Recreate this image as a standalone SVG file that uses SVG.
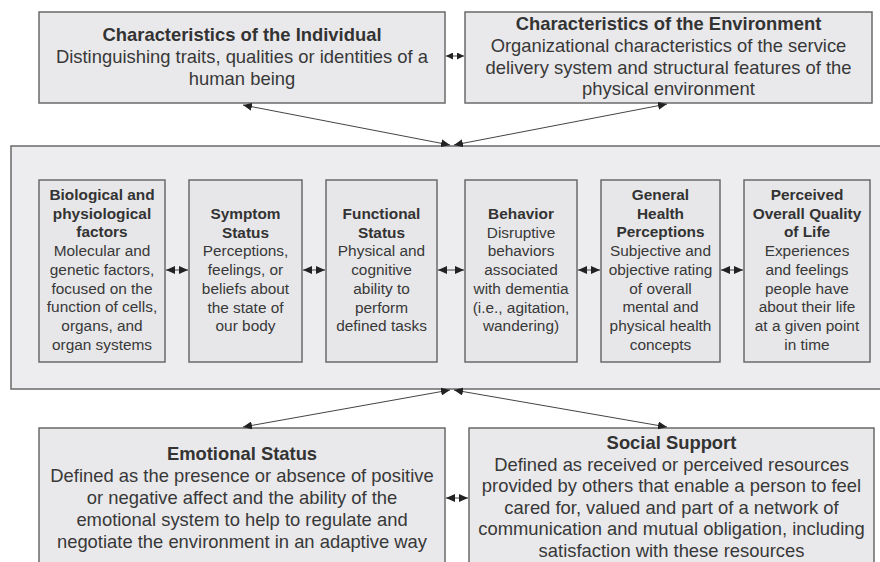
<svg xmlns="http://www.w3.org/2000/svg" width="880" height="562" viewBox="0 0 880 562">
<style>
.box{fill:#e9e9eb;stroke:#6a6a6a;stroke-width:1.5}
.big{fill:#ededef;stroke:#6a6a6a;stroke-width:1.5}
.inner{fill:#e7e7e9;stroke:#6a6a6a;stroke-width:1.5}
text{font-family:"Liberation Sans",Arial,sans-serif;fill:#383838;text-anchor:middle}
.L{font-size:18.4px}
.S{font-size:15.4px}
.b{font-weight:bold;fill:#333}
.con{stroke:#444;stroke-width:1;fill:none;marker-start:url(#ah);marker-end:url(#ah)}
.con.sm{marker-start:url(#ahs);marker-end:url(#ahs)}
</style>
<defs>
<marker id="ah" viewBox="0 0 9 8" refX="9" refY="4" markerWidth="9" markerHeight="8" markerUnits="userSpaceOnUse" orient="auto-start-reverse">
<path d="M0,0 L9,4 L0,8 z" fill="#222"/>
</marker>
<marker id="ahs" viewBox="0 0 7 7" refX="7" refY="3.5" markerWidth="7" markerHeight="7" markerUnits="userSpaceOnUse" orient="auto-start-reverse">
<path d="M0,0 L7,3.5 L0,7 z" fill="#222"/>
</marker>
</defs>
<rect width="880" height="562" fill="#fff"/>

<g id="outer">
<rect class="big" x="11" y="146" width="880" height="243"/>
</g>

<g id="individual">
<rect class="box" x="39" y="12" width="406" height="91"/>
<text class="L" x="242" y="41"><tspan class="b">Characteristics of the Individual</tspan><tspan x="242" dy="22">Distinguishing traits, qualities or identities of a</tspan><tspan x="242" dy="21.5">human being</tspan></text>
</g>

<g id="environment">
<rect class="box" x="465" y="12" width="407" height="91"/>
<text class="L" x="668.5" y="30"><tspan class="b">Characteristics of the Environment</tspan><tspan x="668.5" dy="22">Organizational characteristics of the service</tspan><tspan x="668.5" dy="21.5">delivery system and structural features of the</tspan><tspan x="668.5" dy="21.5">physical environment</tspan></text>
</g>

<g id="biological">
<rect class="inner" x="39" y="180" width="126" height="182"/>
<text class="S" x="102" y="200"><tspan class="b">Biological and</tspan><tspan class="b" x="102" dy="18.7">physiological</tspan><tspan class="b" x="102" dy="18.7">factors</tspan><tspan x="102" dy="18.7">Molecular and</tspan><tspan x="102" dy="18.7">genetic factors,</tspan><tspan x="102" dy="18.7">focused on the</tspan><tspan x="102" dy="18.7">function of cells,</tspan><tspan x="102" dy="18.7">organs, and</tspan><tspan x="102" dy="18.7">organ systems</tspan></text>
</g>

<g id="symptom">
<rect class="inner" x="189" y="180" width="113" height="182"/>
<text class="S" x="245.5" y="219"><tspan class="b">Symptom</tspan><tspan class="b" x="245.5" dy="18.7">Status</tspan><tspan x="245.5" dy="18.7">Perceptions,</tspan><tspan x="245.5" dy="18.7">feelings, or</tspan><tspan x="245.5" dy="18.7">beliefs about</tspan><tspan x="245.5" dy="18.7">the state of</tspan><tspan x="245.5" dy="18.7">our body</tspan></text>
</g>

<g id="functional">
<rect class="inner" x="326" y="180" width="111" height="182"/>
<text class="S" x="381.5" y="219"><tspan class="b">Functional</tspan><tspan class="b" x="381.5" dy="18.7">Status</tspan><tspan x="381.5" dy="18.7">Physical and</tspan><tspan x="381.5" dy="18.7">cognitive</tspan><tspan x="381.5" dy="18.7">ability to</tspan><tspan x="381.5" dy="18.7">perform</tspan><tspan x="381.5" dy="18.7">defined tasks</tspan></text>
</g>

<g id="behavior">
<rect class="inner" x="465" y="180" width="112" height="182"/>
<text class="S" x="521" y="219"><tspan class="b">Behavior</tspan><tspan x="521" dy="18.7">Disruptive</tspan><tspan x="521" dy="18.7">behaviors</tspan><tspan x="521" dy="18.7">associated</tspan><tspan x="521" dy="18.7">with dementia</tspan><tspan x="521" dy="18.7">(i.e., agitation,</tspan><tspan x="521" dy="18.7">wandering)</tspan></text>
</g>

<g id="health">
<rect class="inner" x="601" y="180" width="119" height="182"/>
<text class="S" x="660.5" y="200"><tspan class="b">General</tspan><tspan class="b" x="660.5" dy="18.7">Health</tspan><tspan class="b" x="660.5" dy="18.7">Perceptions</tspan><tspan x="660.5" dy="18.7">Subjective and</tspan><tspan x="660.5" dy="18.7">objective rating</tspan><tspan x="660.5" dy="18.7">of overall</tspan><tspan x="660.5" dy="18.7">mental and</tspan><tspan x="660.5" dy="18.7">physical health</tspan><tspan x="660.5" dy="18.7">concepts</tspan></text>
</g>

<g id="quality">
<rect class="inner" x="744" y="180" width="126" height="182"/>
<text class="S" x="807" y="200"><tspan class="b">Perceived</tspan><tspan class="b" x="807" dy="18.7">Overall Quality</tspan><tspan class="b" x="807" dy="18.7">of Life</tspan><tspan x="807" dy="18.7">Experiences</tspan><tspan x="807" dy="18.7">and feelings</tspan><tspan x="807" dy="18.7">people have</tspan><tspan x="807" dy="18.7">about their life</tspan><tspan x="807" dy="18.7">at a given point</tspan><tspan x="807" dy="18.7">in time</tspan></text>
</g>

<g id="emotional">
<rect class="box" x="39" y="428" width="406" height="150"/>
<text class="L" x="242" y="460"><tspan class="b">Emotional Status</tspan><tspan x="242" dy="22">Defined as the presence or absence of positive</tspan><tspan x="242" dy="22">or negative affect and the ability of the</tspan><tspan x="242" dy="22">emotional system to help to regulate and</tspan><tspan x="242" dy="22">negotiate the environment in an adaptive way</tspan></text>
</g>

<g id="social">
<rect class="box" x="469" y="428" width="405" height="150"/>
<text class="L" x="671.5" y="449"><tspan class="b">Social Support</tspan><tspan x="671.5" dy="21.5">Defined as received or perceived resources</tspan><tspan x="671.5" dy="21.5">provided by others that enable a person to feel</tspan><tspan x="671.5" dy="21.5">cared for, valued and part of a network of</tspan><tspan x="671.5" dy="21.5">communication and mutual obligation, including</tspan><tspan x="671.5" dy="21.5">satisfaction with these resources</tspan></text>
</g>

<g id="connectors">
<line class="con sm" x1="446" y1="56" x2="464" y2="56"/>
<line class="con" x1="243" y1="105" x2="450" y2="145"/>
<line class="con" x1="667" y1="104" x2="454" y2="145"/>
<line class="con" x1="166" y1="270" x2="188" y2="270"/>
<line class="con" x1="303" y1="270" x2="325" y2="270"/>
<line class="con" x1="438" y1="270" x2="464" y2="270"/>
<line class="con" x1="578" y1="270" x2="600" y2="270"/>
<line class="con" x1="721" y1="270" x2="743" y2="270"/>
<line class="con" x1="450" y1="390" x2="243" y2="427"/>
<line class="con" x1="454" y1="390" x2="667" y2="427"/>
<line class="con" x1="446" y1="498" x2="468" y2="498"/>
</g>
</svg>
